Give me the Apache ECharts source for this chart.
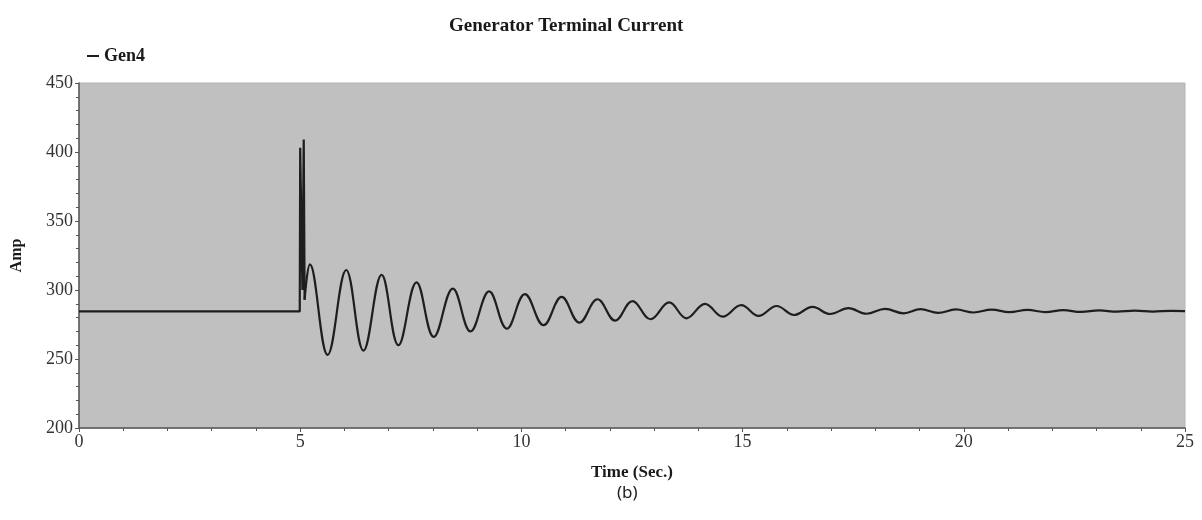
<!DOCTYPE html>
<html>
<head>
<meta charset="utf-8">
<title>Generator Terminal Current</title>
<script src="https://cdn.jsdelivr.net/npm/echarts@6/dist/echarts.min.js"></script>
<style>
  html, body { margin: 0; padding: 0; background: #fff; }
  #main { width: 1202px; height: 520px; }
</style>
</head>
<body>
<div id="main"></div>
<script>
// axis ranges and ticks
var xTicks = [0, 5, 10, 15, 20, 25];
var yTicks = [200, 250, 300, 350, 400, 450];

// pre-fault level, fault spikes (time in s, current in A)
var stepTime  = [0, 4.99, 5.0, 5.04, 5.05, 5.07, 5.08, 5.10];
var stepValue = [284.5, 284.5, 403, 403, 300, 300, 409, 293];

// post-fault swing: peaks and troughs
var swingTime = [5.10, 5.22, 5.62, 6.04, 6.43, 6.84, 7.22, 7.63, 8.02, 8.45,
  8.85, 9.27, 9.67, 10.08, 10.50, 10.91, 11.31, 11.72, 12.12, 12.51,
  12.92, 13.34, 13.73, 14.15, 14.55, 14.97, 15.36, 15.77, 16.16, 16.58,
  16.98, 17.39, 17.80, 18.22, 18.64, 19.02, 19.42, 19.82, 20.22, 20.63,
  21.03, 21.44, 21.84, 22.25, 22.65, 23.06, 23.46, 23.87, 24.27, 24.68, 25.0];
var swingValue = [293, 318.5, 253, 314.5, 256, 311, 260, 305.5, 266, 301,
  270, 299, 272, 297, 274.5, 295, 276.3, 293.3, 277.8, 292,
  278.8, 291, 279.5, 290, 280.7, 289, 281.2, 288.4, 281.9, 287.7,
  282.6, 286.8, 282.8, 286.3, 283.1, 286.1, 283.4, 285.9, 283.7, 285.8,
  283.9, 285.6, 284.0, 285.4, 284.1, 285.2, 284.3, 285.0, 284.4, 284.9, 284.7];

function pairs(xs, ys) {
  var out = [];
  for (var i = 0; i < xs.length; i++) out.push([xs[i], ys[i]]);
  return out;
}

var serif = 'Liberation Serif';
var lineColor = '#1e1e1e';

var chart = echarts.init(document.getElementById('main'), null, { renderer: 'canvas' });

chart.setOption({
  backgroundColor: '#ffffff',
  animation: false,
  title: [{
    text: 'Generator Terminal Current',
    left: 444,
    top: 12,
    textStyle: { fontFamily: serif, fontSize: 19, fontWeight: 'bold', color: '#1a1a1a' }
  }, {
    text: '(b)',
    left: 612,
    top: 480,
    textStyle: { fontFamily: 'Noto Sans', fontSize: 17, fontWeight: 'normal', color: '#222' }
  }],
  legend: {
    data: ['Gen4'],
    left: 82,
    top: 42,
    icon: 'rect',
    itemWidth: 12,
    itemHeight: 2,
    textStyle: { fontFamily: serif, fontSize: 18, fontWeight: 'bold', color: '#1a1a1a' }
  },
  grid: {
    left: 79,
    right: 17,
    top: 83,
    bottom: 92,
    show: true,
    backgroundColor: '#c0c0c0',
    borderColor: '#b4b4b4',
    borderWidth: 1
  },
  xAxis: {
    type: 'value',
    min: xTicks[0],
    max: xTicks[xTicks.length - 1],
    interval: 5,
    name: 'Time (Sec.)',
    nameLocation: 'middle',
    nameGap: 36,
    nameTextStyle: { fontFamily: serif, fontSize: 17, fontWeight: 'bold', color: '#1a1a1a' },
    axisLine: { lineStyle: { color: '#555', width: 1.5 } },
    axisTick: { show: true, length: 4, lineStyle: { color: '#555' } },
    minorTick: { show: true, splitNumber: 5, length: 3, lineStyle: { color: '#555' } },
    axisLabel: { fontFamily: serif, fontSize: 18, color: '#333', margin: 5 },
    splitLine: { show: false }
  },
  yAxis: {
    type: 'value',
    min: yTicks[0],
    max: yTicks[yTicks.length - 1],
    interval: 50,
    name: 'Amp',
    nameLocation: 'middle',
    nameGap: 54,
    nameTextStyle: { fontFamily: serif, fontSize: 16, fontWeight: 'bold', color: '#1a1a1a' },
    axisLine: { show: true, lineStyle: { color: '#555', width: 1.5 } },
    axisTick: { show: true, length: 4, lineStyle: { color: '#555' } },
    minorTick: { show: true, splitNumber: 5, length: 3, lineStyle: { color: '#555' } },
    axisLabel: { fontFamily: serif, fontSize: 18, color: '#333', margin: 6 },
    splitLine: { show: false }
  },
  series: [{
    name: 'Gen4',
    type: 'line',
    data: pairs(stepTime, stepValue),
    showSymbol: false,
    smooth: false,
    lineStyle: { color: lineColor, width: 2.2 },
    itemStyle: { color: lineColor }
  }, {
    name: 'Gen4',
    type: 'line',
    data: pairs(swingTime, swingValue),
    showSymbol: false,
    smooth: 0.4,
    lineStyle: { color: lineColor, width: 2.2 },
    itemStyle: { color: lineColor }
  }]
});
</script>
</body>
</html>
